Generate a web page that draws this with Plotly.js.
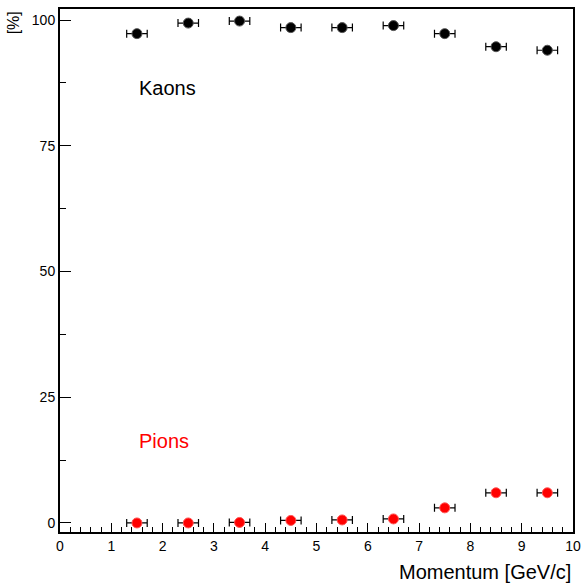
<!DOCTYPE html>
<html>
<head>
<meta charset="utf-8">
<script src="https://cdn.plot.ly/plotly-3.0.1.min.js"></script>
<style>html,body{margin:0;padding:0;background:#fff;}#chart{width:583px;height:584px;}</style>
</head>
<body>
<div id="chart"></div>
<script>
const momentum = [1.5, 2.5, 3.5, 4.5, 5.5, 6.5, 7.5, 8.5, 9.5];
const binHalfWidth = [0.2, 0.2, 0.2, 0.2, 0.2, 0.2, 0.2, 0.2, 0.2];
const kaons = [97.3, 99.4, 99.8, 98.5, 98.5, 98.9, 97.3, 94.7, 94.0];
const pions = [0.0, 0.0, 0.1, 0.5, 0.6, 0.8, 3.0, 6.0, 6.0];
const yTicks = [0, 25, 50, 75, 100];
const xTicks = [0, 1, 2, 3, 4, 5, 6, 7, 8, 9, 10];

function series(y, color, name) {
  return {
    type: 'scatter', mode: 'markers', name: name,
    x: momentum, y: y,
    marker: {symbol: 'circle', size: 10, color: color, line: {color: color === '#000000' ? '#555555' : '#ff5555', width: 1}},
    error_x: {type: 'data', array: binHalfWidth, visible: true, color: '#000000', thickness: 1.2, width: 4},
    showlegend: false, cliponaxis: false
  };
}

const data = [series(kaons, '#000000', 'Kaons'), series(pions, '#ff0000', 'Pions')];

const font = {family: 'Liberation Sans, Arial, Helvetica, sans-serif', size: 14, color: '#000'};

const layout = {
  width: 583, height: 584,
  margin: {l: 60, r: 10, t: 9, b: 52, pad: 0},
  paper_bgcolor: '#ffffff', plot_bgcolor: '#ffffff',
  font: font,
  showlegend: false,
  xaxis: {
    range: [0, 10], tickmode: 'array', tickvals: xTicks, ticktext: xTicks.map(String),
    ticks: 'inside', ticklen: 9, tickwidth: 1, tickcolor: '#000',
    minor: {dtick: 0.2, ticks: 'inside', ticklen: 5, tickwidth: 1, tickcolor: '#000'},
    showline: true, linecolor: '#000', linewidth: 2, mirror: true,
    showgrid: false, zeroline: false,
    tickfont: {family: font.family, size: 14, color: '#000'},
    title: {text: ''}
  },
  yaxis: {
    range: [-1.8, 102.2], tickmode: 'array', tickvals: yTicks, ticktext: yTicks.map(String),
    ticks: 'inside', ticklen: 11, tickwidth: 1, tickcolor: '#000',
    minor: {dtick: 12.5, ticks: 'inside', ticklen: 6, tickwidth: 1, tickcolor: '#000'},
    showline: true, linecolor: '#000', linewidth: 2, mirror: true,
    showgrid: false, zeroline: false,
    tickfont: {family: font.family, size: 14, color: '#000'},
    title: {text: ''}
  },
  annotations: [
    {text: 'Kaons', xref: 'x', yref: 'y', x: 1.5, y: 86.5, xanchor: 'left', yanchor: 'middle', showarrow: false,
     font: {family: font.family, size: 20, color: '#000'}},
    {text: 'Pions', xref: 'x', yref: 'y', x: 1.5, y: 16.3, xanchor: 'left', yanchor: 'middle', showarrow: false,
     font: {family: font.family, size: 20, color: '#ff0000'}},
    {text: 'Momentum [GeV/c]', xref: 'paper', yref: 'paper', x: 1.0, y: -0.0765, xanchor: 'right', yanchor: 'middle', showarrow: false,
     font: {family: font.family, size: 20, color: '#000'}},
    {text: '[%]', xref: 'paper', yref: 'paper', x: -0.09, y: 1.0, xanchor: 'center', yanchor: 'top', textangle: -90, showarrow: false,
     font: {family: font.family, size: 16, color: '#000'}}
  ]
};

Plotly.newPlot('chart', data, layout, {displayModeBar: false, staticPlot: true});
</script>
</body>
</html>
